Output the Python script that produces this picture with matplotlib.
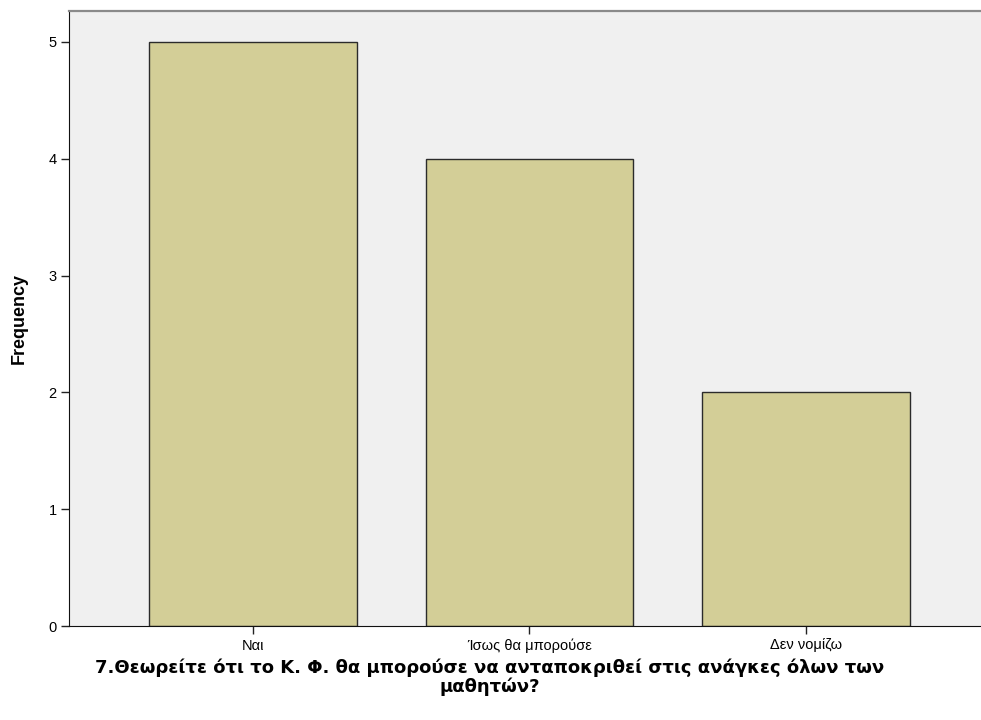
import matplotlib
matplotlib.use("Agg")
import matplotlib.pyplot as plt

categories = ["Ναι", "Ίσως θα μπορούσε", "Δεν νομίζω"]
frequency = [5, 4, 2]
yticks = [0, 1, 2, 3, 4, 5]
xlabel = "7.Θεωρείτε ότι το Κ. Φ. θα μπορούσε να ανταποκριθεί στις ανάγκες όλων των\nμαθητών?"

fig = plt.figure(figsize=(9.81, 7.2), dpi=100)
ax = fig.add_axes([69/981, 94/720, (981-69)/981, 615/720])
ax.set_facecolor("#F0F0F0")
x = list(range(len(categories)))
ax.bar(x, frequency, width=0.75, color="#D3CE97", edgecolor="#2b2b2b", linewidth=1.0, zorder=2)
ax.set_xlim(-0.665, 2.633)
ax.set_ylim(0, 5.265)
ax.set_xticks(x)
ax.set_xticklabels(categories, family="Liberation Sans", fontsize=10.5)
ax.set_yticks(yticks)
ax.set_yticklabels([str(v) for v in yticks], family="Liberation Sans", fontsize=10.5)
ax.tick_params(axis="both", direction="out", length=6, width=1, color="#222222", pad=3)
ax.spines["right"].set_visible(False)
ax.spines["top"].set_color("#8a8a8a")
ax.spines["top"].set_linewidth(1.6)
ax.spines["left"].set_color("#111111")
ax.spines["bottom"].set_color("#111111")
ax.set_ylabel("Frequency", family="Liberation Sans", fontsize=13, fontweight="bold", labelpad=15)
ax.set_xlabel(xlabel, family="DejaVu Sans", fontsize=13, fontweight="bold", labelpad=4, linespacing=1.0)
ax.xaxis.label.set_x((490-69)/(981-69))
fig.savefig("out.png", dpi=100)
